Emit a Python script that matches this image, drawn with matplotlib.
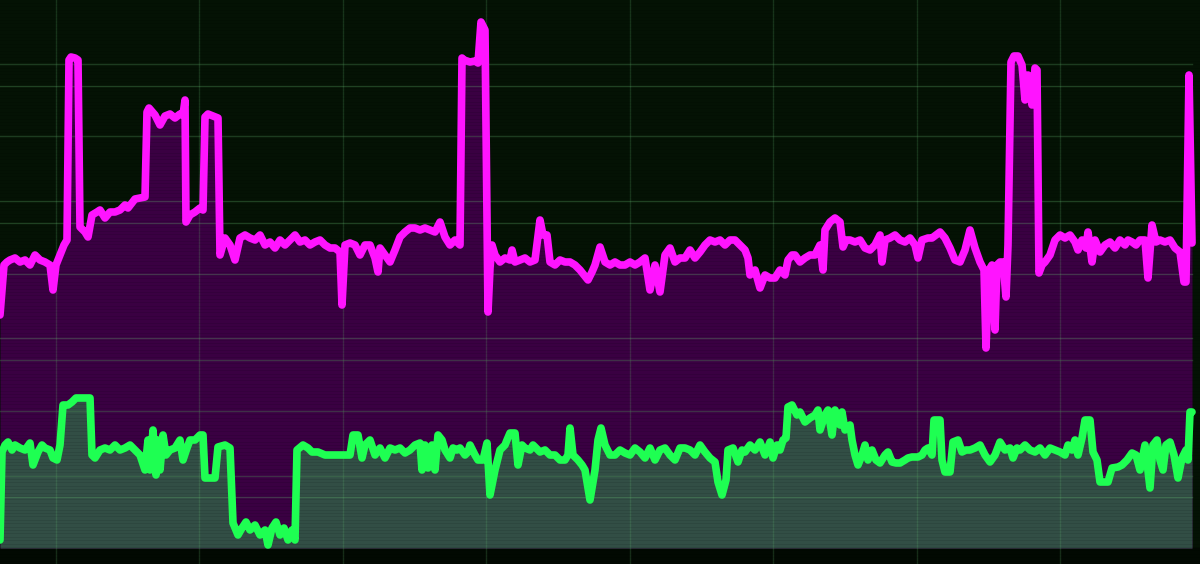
import numpy as np
import matplotlib
matplotlib.use('Agg')
import matplotlib.pyplot as plt

# readings taken off the screen; time in ticks, level in screen units (0 = floor)
# ten readings per row so the two lists stay aligned
mag_t = [0, 2, 4, 7, 10, 15, 20, 25, 30, 35,
         40, 45, 50, 53, 56, 60, 64, 67, 69, 71,
         75, 78, 80, 85, 88, 92, 97, 100, 105, 110,
         115, 120, 125, 128, 135, 145, 147, 149, 155, 160,
         165, 170, 175, 180, 183, 185, 186, 190, 195, 200,
         203, 205, 208, 213, 218, 220, 222, 225, 230, 235,
         240, 245, 250, 255, 260, 265, 270, 275, 280, 285,
         290, 295, 300, 305, 310, 315, 320, 325, 330, 335,
         340, 342, 345, 350, 355, 360, 365, 370, 375, 378,
         380, 385, 390, 395, 400, 405, 410, 415, 420, 425,
         430, 435, 440, 445, 450, 455, 460, 462, 464, 470,
         475, 478, 481, 485, 488, 490, 492, 495, 500, 505,
         510, 512, 515, 520, 525, 530, 535, 540, 543, 547,
         550, 555, 560, 565, 570, 575, 580, 588, 592, 595,
         600, 605, 610, 615, 620, 625, 630, 635, 640, 645,
         650, 655, 660, 665, 670, 675, 680, 685, 690, 695,
         700, 705, 710, 715, 720, 725, 730, 735, 740, 745,
         748, 750, 755, 760, 765, 770, 775, 780, 785, 788,
         792, 795, 800, 805, 810, 815, 820, 823, 825, 830,
         835, 840, 843, 846, 850, 855, 860, 865, 870, 875,
         880, 882, 885, 890, 895, 900, 905, 910, 915, 918,
         922, 928, 932, 936, 940, 945, 950, 955, 960, 965,
         970, 975, 980, 984, 986, 989, 992, 995, 997, 1000,
         1003, 1006, 1008, 1011, 1014, 1018, 1022, 1025, 1028, 1032,
         1035, 1037, 1039, 1042, 1045, 1050, 1055, 1060, 1065, 1070,
         1075, 1078, 1082, 1086, 1088, 1092, 1095, 1100, 1105, 1110,
         1115, 1120, 1125, 1128, 1132, 1136, 1140, 1145, 1148, 1152,
         1156, 1160, 1165, 1170, 1175, 1180, 1184, 1186, 1189, 1192]
mag_v = [233, 258, 283, 286, 288, 290, 286, 288, 283, 293,
         288, 286, 283, 258, 283, 293, 303, 308, 488, 491,
         490, 488, 321, 316, 311, 333, 336, 338, 330, 336,
         336, 338, 343, 340, 349, 351, 436, 440, 433, 423,
         432, 434, 430, 434, 433, 448, 326, 333, 336, 340,
         338, 431, 434, 432, 430, 293, 300, 310, 303, 288,
         310, 313, 310, 308, 313, 303, 306, 300, 308, 303,
         308, 313, 306, 308, 303, 306, 308, 303, 300, 300,
         296, 243, 303, 305, 303, 293, 303, 303, 290, 276,
         300, 293, 286, 298, 311, 316, 320, 320, 318, 320,
         318, 316, 326, 311, 303, 308, 303, 490, 488, 486,
         487, 485, 526, 518, 236, 280, 303, 293, 286, 290,
         288, 298, 286, 288, 290, 286, 288, 328, 313, 313,
         286, 283, 288, 286, 286, 283, 278, 268, 276, 283,
         301, 286, 283, 286, 283, 283, 286, 283, 286, 290,
         258, 283, 256, 293, 300, 286, 290, 290, 298, 290,
         296, 303, 308, 306, 308, 303, 308, 308, 303, 298,
         290, 273, 278, 260, 273, 270, 270, 278, 273, 288,
         293, 293, 286, 290, 293, 293, 303, 278, 318, 326,
         330, 326, 301, 308, 308, 306, 308, 300, 298, 303,
         313, 286, 308, 310, 313, 308, 306, 310, 303, 290,
         308, 310, 310, 313, 316, 310, 300, 288, 286, 298,
         318, 300, 286, 278, 200, 278, 283, 218, 283, 286,
         286, 251, 303, 486, 492, 492, 483, 448, 473, 443,
         480, 478, 275, 283, 286, 293, 308, 313, 310, 313,
         306, 298, 308, 300, 316, 286, 308, 296, 303, 306,
         300, 308, 303, 308, 306, 303, 308, 308, 270, 323,
         306, 308, 306, 308, 300, 296, 266, 266, 473, 305]

grn_t = [0, 2, 5, 8, 12, 15, 20, 25, 30, 33,
         38, 42, 45, 50, 53, 57, 60, 63, 68, 72,
         76, 85, 90, 92, 95, 100, 105, 110, 115, 120,
         125, 130, 135, 140, 145, 148, 150, 153, 156, 158,
         160, 163, 166, 170, 175, 180, 183, 187, 190, 195,
         200, 203, 205, 215, 218, 225, 230, 233, 238, 242,
         246, 250, 255, 260, 265, 268, 272, 276, 280, 284,
         288, 292, 295, 297, 303, 308, 312, 318, 325, 350,
         353, 358, 362, 365, 370, 375, 380, 385, 390, 395,
         400, 405, 410, 415, 420, 422, 425, 428, 432, 435,
         438, 442, 445, 450, 453, 457, 460, 465, 468, 470,
         475, 478, 483, 487, 490, 495, 500, 505, 507, 510,
         515, 518, 522, 525, 530, 533, 536, 540, 545, 550,
         555, 560, 565, 568, 570, 573, 578, 582, 585, 590,
         595, 598, 601, 605, 610, 615, 620, 625, 630, 635,
         640, 645, 650, 655, 660, 665, 670, 675, 680, 685,
         690, 695, 700, 705, 710, 715, 718, 722, 726, 728,
         733, 738, 742, 745, 750, 755, 760, 765, 770, 773,
         777, 780, 783, 786, 788, 792, 797, 800, 805, 810,
         815, 818, 820, 825, 828, 832, 835, 840, 842, 845,
         850, 852, 855, 858, 862, 865, 868, 872, 876, 880,
         885, 888, 892, 896, 900, 905, 908, 912, 918, 922,
         925, 928, 932, 934, 940, 942, 945, 950, 953, 958,
         962, 966, 970, 975, 980, 985, 990, 995, 1000, 1005,
         1010, 1013, 1017, 1020, 1025, 1030, 1035, 1040, 1045, 1050,
         1055, 1060, 1065, 1068, 1072, 1075, 1078, 1082, 1085, 1090,
         1093, 1097, 1100, 1105, 1108, 1112, 1118, 1122, 1127, 1132,
         1136, 1140, 1145, 1150, 1153, 1157, 1160, 1163, 1166, 1170,
         1174, 1178, 1182, 1186, 1188, 1190, 1192]
grn_v = [8, 96, 103, 106, 98, 103, 100, 98, 105, 83,
         96, 103, 100, 98, 90, 88, 103, 143, 143, 146,
         150, 150, 150, 93, 90, 98, 100, 98, 103, 98,
         100, 103, 98, 93, 78, 108, 78, 118, 73, 108,
         78, 113, 93, 98, 100, 108, 88, 100, 108, 108,
         113, 113, 70, 70, 101, 103, 100, 25, 13, 20,
         26, 18, 23, 13, 18, 3, 20, 26, 13, 20,
         8, 18, 8, 98, 103, 100, 96, 96, 93, 93,
         113, 113, 90, 103, 108, 93, 100, 90, 100, 98,
         100, 95, 98, 103, 105, 78, 103, 80, 103, 78,
         113, 108, 98, 90, 100, 98, 100, 93, 96, 103,
         93, 88, 88, 105, 53, 78, 98, 103, 108, 115,
         115, 83, 103, 100, 98, 103, 100, 96, 98, 93,
         93, 88, 88, 93, 120, 93, 88, 83, 78, 48,
         78, 108, 120, 103, 93, 93, 98, 95, 93, 100,
         96, 90, 100, 88, 98, 100, 93, 88, 100, 100,
         98, 93, 103, 96, 90, 86, 66, 53, 68, 98,
         100, 86, 98, 96, 103, 98, 106, 93, 106, 90,
         103, 98, 108, 110, 141, 143, 133, 136, 126, 130,
         133, 138, 118, 133, 138, 113, 138, 123, 136, 118,
         123, 108, 93, 83, 93, 103, 88, 98, 88, 85,
         93, 96, 86, 85, 85, 88, 90, 91, 91, 93,
         98, 100, 93, 128, 128, 88, 76, 76, 106, 108,
         96, 98, 98, 100, 103, 93, 86, 93, 106, 98,
         100, 90, 100, 98, 103, 98, 96, 100, 93, 100,
         98, 96, 93, 103, 98, 108, 93, 110, 128, 128,
         96, 88, 66, 66, 66, 80, 81, 83, 88, 95,
         93, 78, 103, 60, 103, 108, 88, 78, 103, 106,
         93, 70, 90, 98, 88, 136, 136]

# screen layout of the monitor
grid_x = [55.5, 199, 342.5, 486, 629.5, 773, 916.5, 1060]
grid_y = [484, 462, 412, 347, 325, 274, 210, 188, 137, 72, 51]

bg = '#041204'
fig = plt.figure(figsize=(12, 5.64), dpi=100, facecolor=bg)
ax = fig.add_axes([0, 0, 1, 1])
ax.set_facecolor(bg)
ax.set_xlim(0, 1200)
ax.set_ylim(-16, 548)
ax.axis('off')

# dark band under the floor
ax.axhspan(-16, 0, color='#020902', zorder=0)

ax.fill_between(mag_t, mag_v, 0, color='#3a0042', zorder=1, linewidth=0)
ax.fill_between(grn_t, grn_v, 0, color='#324e45', zorder=2, linewidth=0)

for gx in grid_x:
    ax.axvline(gx, color='#5fb06a', alpha=0.22, linewidth=1, zorder=3)
for gy in grid_y:
    ax.axhline(gy, xmax=1192 / 1200, color='#5fb06a', alpha=0.3, linewidth=1, zorder=3)

# faint scanlines
for sy in np.arange(-16, 548, 3.4):
    ax.axhline(sy, color='black', alpha=0.1, linewidth=0.6, zorder=4)

ax.plot(mag_t, mag_v, color='#ff14ff', linewidth=5.5, solid_joinstyle='round',
        solid_capstyle='round', zorder=5)
ax.plot(grn_t, grn_v, color='#1eff52', linewidth=5.5, solid_joinstyle='round',
        solid_capstyle='round', zorder=6)

plt.savefig('out.png', dpi=100, facecolor=bg)
